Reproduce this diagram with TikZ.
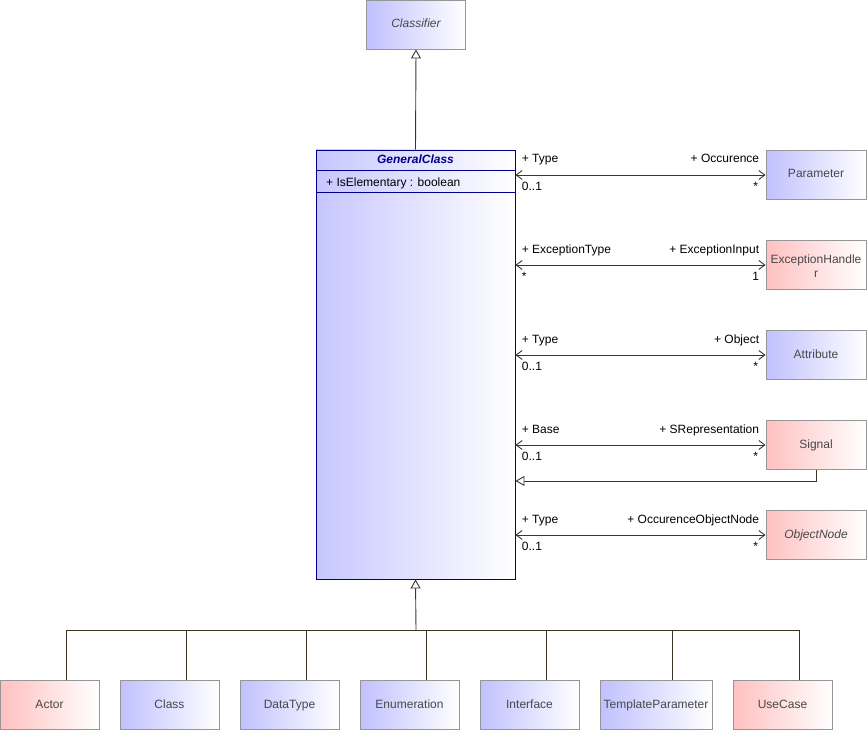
\documentclass[tikz,border=0pt]{standalone}
\usepackage{fontspec}
\setmainfont{Liberation Sans}
\usetikzlibrary{arrows.meta}
\definecolor{umlblue}{RGB}{192,192,255}
\definecolor{umlred}{RGB}{255,192,192}
\definecolor{umlline}{RGB}{64,52,36}
\definecolor{umlborder}{RGB}{150,150,150}
\definecolor{umltext}{RGB}{72,72,72}
\definecolor{umlnavy}{RGB}{0,0,140}
\newcommand{\umlfont}{\fontsize{12}{14}\selectfont}
\tikzset{
  cls/.style={draw=umlborder, line width=0.9pt, right color=white, minimum height=49pt, inner sep=0pt,
    text=umltext, align=center, font=\umlfont, text height=8.5pt, text depth=2.5pt},
  bluecls/.style={cls, left color=umlblue, right color=white},
  redcls/.style={cls, left color=umlred, right color=white},
  assoc/.style={draw=umlline, line width=0.9pt, {Straight Barb[length=6pt,width=9pt]}-{Straight Barb[length=6pt,width=9pt]}},
  gen/.style={draw=umlline, line width=0.9pt, -{Triangle[open, length=9pt, width=10pt, fill=white]}},
  role/.style={font=\umlfont, inner sep=0pt, text=black},
}
\begin{document}
\begin{tikzpicture}[x=1pt, y=-1pt]
\useasboundingbox (0,0) rectangle (867,730);
% top
\node[bluecls, minimum width=99pt, font=\umlfont\itshape] (classifier) at (416,24.5){Classifier};
\node[draw=umlnavy, line width=0.9pt, left color=umlblue!90, right color=white, minimum width=199pt, minimum height=429pt] (gc) at (415.5,364.5){};
\node[role, anchor=base, text=umlnavy, font=\umlfont\bfseries\itshape] (gctitle) at (415.5,164){GeneralClass};
\node[role, anchor=base west] (gcattr) at (326,186){+ IsElementary : boolean};
\draw[umlnavy, line width=0.9pt] ([yshift=-21pt]gc.north west) -- ([yshift=-21pt]gc.north east);
\draw[umlnavy, line width=0.9pt] ([yshift=-43pt]gc.north west) -- ([yshift=-43pt]gc.north east);
\draw[gen] (gc.north) -- (classifier.south);
% right side
\node[bluecls, minimum width=100pt] (param) at (816,175){Parameter};
\node[redcls, minimum width=100pt, text height=24pt, text depth=0pt] (exch) at (816,265){ExceptionHandle\\r};
\node[bluecls, minimum width=100pt] (attr) at (816,355){Attribute};
\node[redcls, minimum width=100pt] (signal) at (816,445){Signal};
\node[redcls, minimum width=100pt, font=\umlfont\itshape] (objnode) at (816,535){ObjectNode};
\draw[assoc] (gc.east |- param.west) -- (param.west)
  node[role, pos=0, anchor=base west, xshift=6pt, yshift=12pt]{+ Type}
  node[role, pos=1, anchor=base east, xshift=-6pt, yshift=12pt]{+ Occurence}
  node[role, pos=0, anchor=base west, xshift=6pt, yshift=-15pt]{0..1}
  node[role, pos=1, anchor=base east, xshift=-7pt, yshift=-15pt]{*};
\draw[assoc] (gc.east |- exch.west) -- (exch.west)
  node[role, pos=0, anchor=base west, xshift=6pt, yshift=12pt]{+ ExceptionType}
  node[role, pos=1, anchor=base east, xshift=-6pt, yshift=12pt]{+ ExceptionInput}
  node[role, pos=0, anchor=base west, xshift=6pt, yshift=-15pt]{*}
  node[role, pos=1, anchor=base east, xshift=-6pt, yshift=-15pt]{1};
\draw[assoc] (gc.east |- attr.west) -- (attr.west)
  node[role, pos=0, anchor=base west, xshift=6pt, yshift=12pt]{+ Type}
  node[role, pos=1, anchor=base east, xshift=-6pt, yshift=12pt]{+ Object}
  node[role, pos=0, anchor=base west, xshift=6pt, yshift=-15pt]{0..1}
  node[role, pos=1, anchor=base east, xshift=-7pt, yshift=-15pt]{*};
\draw[assoc] (gc.east |- signal.west) -- (signal.west)
  node[role, pos=0, anchor=base west, xshift=6pt, yshift=12pt]{+ Base}
  node[role, pos=1, anchor=base east, xshift=-6pt, yshift=12pt]{+ SRepresentation}
  node[role, pos=0, anchor=base west, xshift=6pt, yshift=-15pt]{0..1}
  node[role, pos=1, anchor=base east, xshift=-7pt, yshift=-15pt]{*};
\draw[gen] (signal.south) |- ([yshift=-11pt]signal.south -| gc.east);
\draw[assoc] (gc.east |- objnode.west) -- (objnode.west)
  node[role, pos=0, anchor=base west, xshift=6pt, yshift=12pt]{+ Type}
  node[role, pos=1, anchor=base east, xshift=-6pt, yshift=12pt]{+ OccurenceObjectNode}
  node[role, pos=0, anchor=base west, xshift=6pt, yshift=-15pt]{0..1}
  node[role, pos=1, anchor=base east, xshift=-7pt, yshift=-15pt]{*};
% bottom
\node[redcls, minimum width=99pt] (actor) at (49.5,705){Actor};
\node[bluecls, minimum width=99pt] (class) at (169.5,705){Class};
\node[bluecls, minimum width=99pt] (datatype) at (289.5,705){DataType};
\node[bluecls, minimum width=99pt] (enum) at (409.5,705){Enumeration};
\node[bluecls, minimum width=99pt] (iface) at (529.5,705){Interface};
\node[bluecls, minimum width=112pt] (tparam) at (656,705){TemplateParameter};
\node[redcls, minimum width=99pt] (usecase) at (782.5,705){UseCase};
\coordinate (bus) at (416,630);
\draw[gen] (bus) -- (gc.south);
\foreach \n in {actor,class,datatype,enum,iface,tparam,usecase}
  \draw[umlline, line width=0.9pt] ([xshift=16.5pt]\n.north) |- (bus);
\end{tikzpicture}
\end{document}
